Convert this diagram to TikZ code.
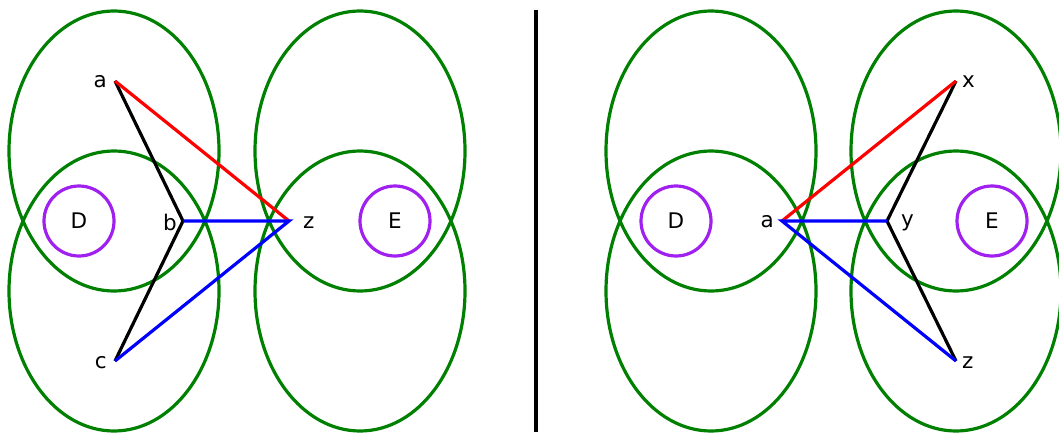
\documentclass[tikz,border=0pt]{standalone}
\usepackage{fontspec}
\setmainfont{DejaVu Sans}
\definecolor{ggreen}{RGB}{0,128,0}
\definecolor{vpurple}{RGB}{160,32,240}
\begin{document}
\begin{tikzpicture}[x=1pt,y=-1pt,
  region/.style={draw=ggreen,line width=3.2pt},
  blob/.style={draw=vpurple,line width=3.2pt,circle,minimum size=70pt,inner sep=0pt,font=\fontsize{21.5}{21.5}\selectfont},
  edge/.style={line width=3.2pt},
  lbl/.style={font=\fontsize{21.5}{21.5}\selectfont,inner sep=0pt},
  pt/.style={coordinate}]
\useasboundingbox (0,0) rectangle (1059,433);
% left panel
\draw[region] (114,151) ellipse [x radius=105, y radius=140];
\draw[region] (114,291) ellipse [x radius=105, y radius=140];
\draw[region] (360,151) ellipse [x radius=105, y radius=140];
\draw[region] (360,291) ellipse [x radius=105, y radius=140];
\node[blob] (D1) at (79,221) {D};
\node[blob] (E1) at (395,221) {E};
\node[pt] (a1) at (115,81) {};
\node[pt] (b1) at (183,221) {};
\node[pt] (c1) at (115,361) {};
\node[pt] (z1) at (289,221) {};
\node[lbl,anchor=east] (la1) at (107,82) {a};
\node[lbl,anchor=east] (lb1) at (177,222) {b};
\node[lbl,anchor=east] (lc1) at (107,363) {c};
\node[lbl,anchor=west] (lz1) at (303,223) {z};
\draw[edge,black] (a1) -- (b1) -- (c1);
\draw[edge,red] (a1) -- (z1);
\draw[edge,blue] (b1) -- (z1) -- (c1);
% divider
\node[pt] (t) at (536,10) {};
\node[pt] (u) at (536,432) {};
\draw[line width=3.2pt,black] (t) -- (u);
% right panel
\draw[region] (711,151) ellipse [x radius=105, y radius=140];
\draw[region] (711,291) ellipse [x radius=105, y radius=140];
\draw[region] (956,151) ellipse [x radius=105, y radius=140];
\draw[region] (956,291) ellipse [x radius=105, y radius=140];
\node[blob] (D2) at (676,221) {D};
\node[blob] (E2) at (992,221) {E};
\node[pt] (a2) at (782,221) {};
\node[pt] (x2) at (956,81) {};
\node[pt] (y2) at (887,221) {};
\node[pt] (z2) at (956,361) {};
\node[lbl,anchor=east] (la2) at (774,222) {a};
\node[lbl,anchor=west] (lx2) at (962,82) {x};
\node[lbl,anchor=west] (ly2) at (901,223) {y};
\node[lbl,anchor=west] (lz2) at (962,363) {z};
\draw[edge,black] (x2) -- (y2) -- (z2);
\draw[edge,red] (a2) -- (x2);
\draw[edge,blue] (y2) -- (a2) -- (z2);
\end{tikzpicture}
\end{document}
